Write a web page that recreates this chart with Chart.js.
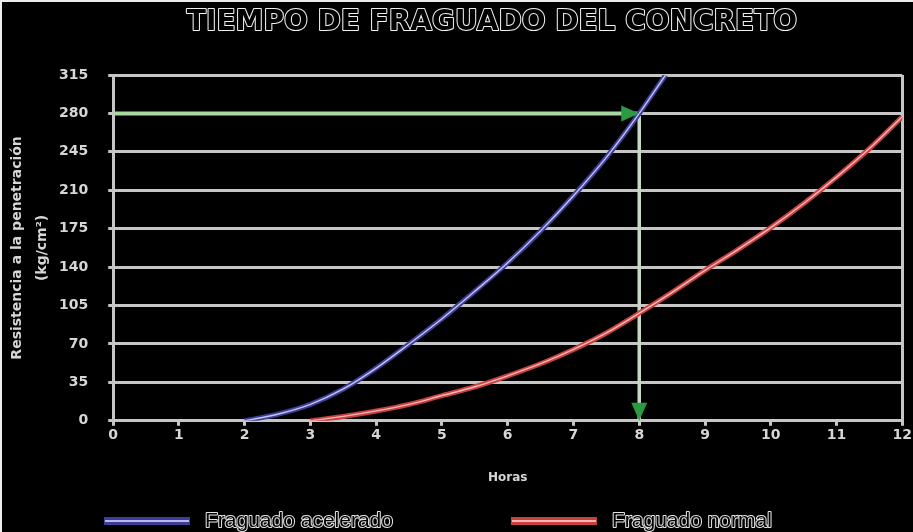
<!DOCTYPE html>
<html>
<head>
<meta charset="utf-8">
<title>Tiempo de fraguado del concreto</title>
<script src="https://cdn.jsdelivr.net/npm/chart.js@4/dist/chart.umd.min.js"></script>
<style>
  html, body { margin: 0; padding: 0; background: #ededed; }
  #marco { position: absolute; left: 2px; top: 2px; width: 911px; height: 530px; background: #000; }
  canvas { display: block; }
</style>
</head>
<body>
<div id="marco"><canvas id="grafico" width="911" height="530"></canvas></div>
<script>
// Textos
const titulo = 'TIEMPO DE FRAGUADO DEL CONCRETO';
const tituloEjeY = ['Resistencia a la penetración', '(kg/cm²)'];
const tituloEjeX = 'Horas';

// Fraguado acelerado: horas y resistencia (kg/cm²)
const horasAcelerado = [2, 2.5, 3, 3.5, 4, 4.5, 5, 5.5, 6, 6.5, 7, 7.5, 8, 8.4];
const resistenciaAcelerado = [0, 6, 15, 29, 48, 70, 93, 118, 144, 173, 205, 240, 280, 315];

// Fraguado normal: horas y resistencia (kg/cm²)
const horasNormal = [3, 3.5, 4, 4.5, 5, 5.5, 6, 6.5, 7, 7.5, 8, 8.5, 9, 9.5, 10, 10.5, 11, 11.5, 12];
const resistenciaNormal = [0, 4, 9, 15, 23, 31, 41, 52, 65, 80, 98, 117, 137, 156, 176, 198, 222, 248, 277];

// Lectura marcada con flechas
const lecturaHoras = 8;
const lecturaResistencia = 280;

// Escalas
const ejeX = { min: 0, max: 12, paso: 1 };
const ejeY = { min: 0, max: 315, paso: 35 };

const aPuntos = (xs, ys) => xs.map((x, i) => ({ x: x, y: ys[i] }));

const GRIS = '#c6c6c6';

// Título con letras contorneadas
const tituloContorno = {
  id: 'tituloContorno',
  afterDraw(chart) {
    const ctx = chart.ctx;
    ctx.save();
    ctx.font = 'bold 28px "DejaVu Sans"';
    ctx.textAlign = 'center';
    ctx.textBaseline = 'middle';
    ctx.lineJoin = 'round';
    ctx.lineWidth = 2;
    ctx.strokeStyle = '#f2f2f2';
    ctx.strokeText(titulo, 490, 21);
    ctx.fillStyle = '#000';
    ctx.fillText(titulo, 490, 21);
    ctx.restore();
  }
};

// Puntas de flecha al final de las guías de lectura
const flechas = {
  id: 'flechas',
  afterDatasetsDraw(chart) {
    const ctx = chart.ctx;
    chart.data.datasets.forEach((ds, i) => {
      if (!ds.flecha) return;
      const pts = chart.getDatasetMeta(i).data;
      const a = pts[pts.length - 2], b = pts[pts.length - 1];
      const ang = Math.atan2(b.y - a.y, b.x - a.x);
      const largo = 18, ancho = 8;
      ctx.save();
      ctx.translate(b.x, b.y);
      ctx.rotate(ang);
      ctx.beginPath();
      ctx.moveTo(0, 0);
      ctx.lineTo(-largo, -ancho);
      ctx.lineTo(-largo, ancho);
      ctx.closePath();
      ctx.fillStyle = ds.colorFlecha;
      ctx.fill();
      ctx.restore();
    });
  }
};

// Leyenda inferior con muestras de línea
const leyenda = {
  id: 'leyenda',
  afterDraw(chart) {
    const ctx = chart.ctx;
    const y = 519;
    let x = 102;
    ctx.save();
    ctx.font = '21px "Liberation Sans"';
    ctx.textBaseline = 'middle';
    ctx.lineJoin = 'round';
    chart.data.datasets.forEach(ds => {
      if (!ds.enLeyenda) return;
      ctx.fillStyle = ds.borderColor;
      ctx.fillRect(x, y - 4, 86, 8);
      ctx.fillStyle = ds.colorBrillo;
      ctx.fillRect(x + 1, y - 1, 84, 2);
      const tx = x + 101;
      ctx.lineWidth = 2;
      ctx.strokeStyle = '#e6e6e6';
      ctx.strokeText(ds.label, tx, y);
      ctx.fillStyle = '#000';
      ctx.fillText(ds.label, tx, y);
      x = tx + ctx.measureText(ds.label).width + 118;
    });
    ctx.restore();
  }
};

Chart.defaults.font.family = '"DejaVu Sans"';
Chart.defaults.color = '#d4d4d4';

new Chart(document.getElementById('grafico'), {
  type: 'line',
  data: {
    datasets: [
      {
        label: 'brillo acelerado',
        data: aPuntos(horasAcelerado, resistenciaAcelerado),
        borderColor: '#c4c4f0',
        borderWidth: 1.4,
        pointRadius: 0,
        cubicInterpolationMode: 'monotone'
      },
      {
        label: 'Fraguado acelerado',
        enLeyenda: true,
        colorBrillo: '#b8b8ec',
        data: aPuntos(horasAcelerado, resistenciaAcelerado),
        borderColor: '#3e3e98',
        borderWidth: 5,
        pointRadius: 0,
        cubicInterpolationMode: 'monotone'
      },
      {
        label: 'brillo normal',
        data: aPuntos(horasNormal, resistenciaNormal),
        borderColor: '#f6b8b8',
        borderWidth: 1.4,
        pointRadius: 0,
        cubicInterpolationMode: 'monotone'
      },
      {
        label: 'Fraguado normal',
        enLeyenda: true,
        colorBrillo: '#f6b4b4',
        data: aPuntos(horasNormal, resistenciaNormal),
        borderColor: '#c84040',
        borderWidth: 5,
        pointRadius: 0,
        cubicInterpolationMode: 'monotone'
      },
      {
        label: 'lectura horizontal',
        flecha: true,
        colorFlecha: '#2c9a42',
        data: [{ x: ejeX.min, y: lecturaResistencia }, { x: lecturaHoras, y: lecturaResistencia }],
        borderColor: '#a9d8a2',
        borderWidth: 4,
        pointRadius: 0,
        tension: 0
      },
      {
        label: 'lectura vertical',
        flecha: true,
        colorFlecha: '#2c9a42',
        data: [{ x: lecturaHoras, y: lecturaResistencia }, { x: lecturaHoras, y: ejeY.min }],
        borderColor: '#c9d8c6',
        borderWidth: 3.5,
        pointRadius: 0,
        tension: 0
      }
    ]
  },
  options: {
    responsive: false,
    animation: false,
    events: [],
    layout: { padding: { top: 73, right: 10, bottom: 47, left: 0 } },
    plugins: {
      legend: { display: false },
      title: { display: false },
      tooltip: { enabled: false }
    },
    scales: {
      x: {
        type: 'linear',
        min: ejeX.min,
        max: ejeX.max,
        border: { display: true, color: GRIS, width: 3 },
        grid: {
          drawOnChartArea: true,
          color: c => (c.tick && c.tick.value === ejeX.max ? GRIS : 'rgba(0,0,0,0)'),
          tickColor: GRIS,
          lineWidth: 3,
          tickLength: 5
        },
        ticks: {
          stepSize: ejeX.paso,
          padding: 1,
          color: '#d6d6d6',
          font: { size: 14, weight: 'bold' }
        },
        title: {
          display: true,
          text: tituloEjeX,
          color: '#d6d6d6',
          font: { size: 12, weight: 'bold' },
          padding: { top: 26, bottom: 0 }
        }
      },
      y: {
        min: ejeY.min,
        max: ejeY.max,
        border: { display: true, color: GRIS, width: 3 },
        grid: {
          color: GRIS,
          tickColor: GRIS,
          lineWidth: 3,
          tickLength: 5
        },
        ticks: {
          stepSize: ejeY.paso,
          padding: 20,
          color: '#d6d6d6',
          font: { size: 14, weight: 'bold' }
        },
        title: {
          display: true,
          text: tituloEjeY,
          color: '#d6d6d6',
          font: { size: 14, weight: 'bold', lineHeight: '25px' },
          padding: { top: 2.5, bottom: -15.5 }
        }
      }
    }
  },
  plugins: [tituloContorno, flechas, leyenda]
});
</script>
</body>
</html>
